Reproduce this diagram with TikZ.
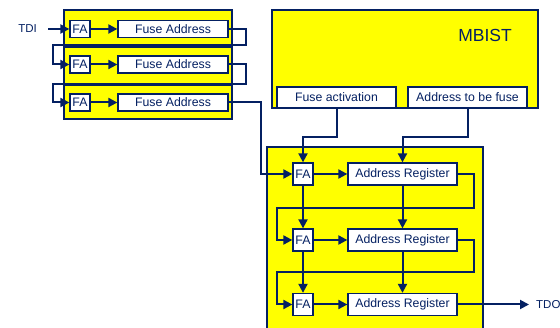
\documentclass[tikz,border=0pt]{standalone}
\usepackage{fontspec}
\setmainfont{Liberation Sans}
\usetikzlibrary{arrows.meta}
\definecolor{navy}{RGB}{4,32,98}
\definecolor{chip}{RGB}{255,255,0}
\tikzset{
  block/.style={draw=navy, line width=1.3pt, fill=chip},
  cell/.style={draw=navy, line width=1.3pt, fill=white, text=navy, inner sep=0pt,
    font=\fontsize{12.3}{14}\selectfont},
  wire/.style={draw=navy, line width=2pt},
  lbl/.style={text=navy, inner sep=0pt, font=\fontsize{11.5}{14}\selectfont}
}
\begin{document}
\begin{tikzpicture}[x=1pt, y=-1pt, >={Triangle[length=9pt,width=9pt]}]
  \clip (0,0) rectangle (560,328);

  % scan chain of fuse addresses
  \draw[block] (64,10) rectangle (232,47);
  \draw[block] (64,47) rectangle (232,85);
  \draw[block] (64,85) rectangle (232,119);
  \node[cell, minimum width=20pt, minimum height=17pt] (fa1) at (80,29) {FA};
  \node[cell, minimum width=20pt, minimum height=17pt] (fa2) at (80,64.5) {FA};
  \node[cell, minimum width=20pt, minimum height=17pt] (fa3) at (80,102.5) {FA};
  \node[cell, minimum width=110pt, minimum height=17pt] (fad1) at (173,29) {Fuse Address};
  \node[cell, minimum width=110pt, minimum height=17pt] (fad2) at (173,64.5) {Fuse Address};
  \node[cell, minimum width=110pt, minimum height=17pt] (fad3) at (173,102.5) {Fuse Address};

  % MBIST
  \draw[block] (272,10) rectangle (538,108);
  \node[lbl, font=\fontsize{17.5}{20}\selectfont] (mbist) at (485,35) {MBIST};
  \node[cell, minimum width=119pt, minimum height=21pt] (fact) at (336.5,97.5) {Fuse activation};
  \node[cell, minimum width=119pt, minimum height=21pt] (fadr) at (467.5,97.5) {Address to be fuse};

  % address registers
  \draw[block] (267,147) rectangle (483,340);
  \node[cell, minimum width=20pt, minimum height=22pt] (fa4) at (303,174) {FA};
  \node[cell, minimum width=20pt, minimum height=22pt] (fa5) at (303,240) {FA};
  \node[cell, minimum width=20pt, minimum height=22pt] (fa6) at (303,304.5) {FA};
  \node[cell, minimum width=109pt, minimum height=22pt] (ar4) at (402.5,174) {Address Register};
  \node[cell, minimum width=109pt, minimum height=22pt] (ar5) at (402.5,240) {Address Register};
  \node[cell, minimum width=109pt, minimum height=22pt] (ar6) at (402.5,304.5) {Address Register};

  \node[lbl, anchor=east] (tdi) at (37,29) {TDI};
  \node[lbl, anchor=west] (tdo) at (536,304.5) {TDO};

  % connections
  \draw[wire, ->, shorten <=11pt] (tdi.east) -- (fa1.west);
  \foreach \i in {1,2,3} {
    \draw[wire, ->] (fa\i.east) -- (fad\i.west);
  }
  \draw[wire, ->] (fad1.east) -- ++(17,0) |- (53,45) |- (fa2.west);
  \draw[wire, ->] (fad2.east) -- ++(17,0) |- (53,84) |- (fa3.west);
  \draw[wire, ->] (fad3.east) -- ++(32,0) |- (fa4.west);

  \draw[wire, ->] (fact.south) -- ++(0,28) -| (fa4.north);
  \draw[wire, ->] (fadr.south) -- ++(0,28) -| (ar4.north);

  \foreach \i in {4,5,6} {
    \draw[wire, ->] (fa\i.east) -- (ar\i.west);
  }
  \draw[wire, ->] (fa4.south) -- (fa5.north);
  \draw[wire, ->] (fa5.south) -- (fa6.north);
  \draw[wire, ->] (ar4.south) -- (ar5.north);
  \draw[wire, ->] (ar5.south) -- (ar6.north);
  \draw[wire, ->] (ar4.east) -- ++(16,0) |- (277,208) |- (fa5.west);
  \draw[wire, ->] (ar5.east) -- ++(16,0) |- (277,272) |- (fa6.west);
  \draw[wire, ->, shorten >=7pt] (ar6.east) -- (tdo.west);
\end{tikzpicture}
\end{document}
